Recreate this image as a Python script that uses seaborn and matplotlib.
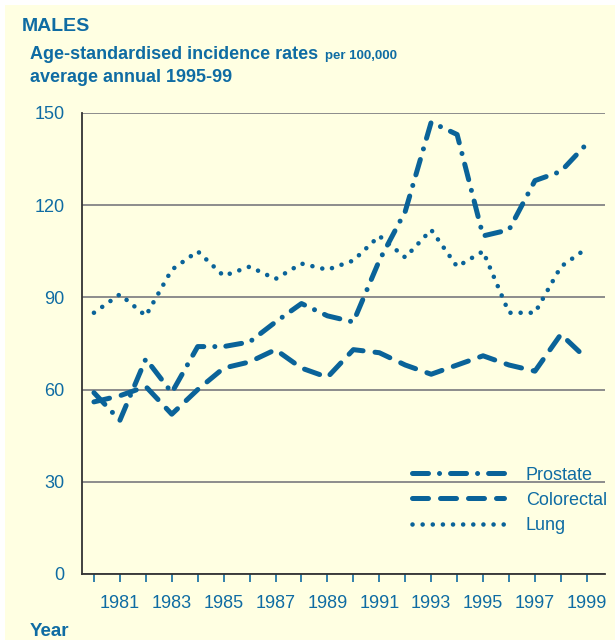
import numpy as np
import pandas as pd
import seaborn as sns
import matplotlib.pyplot as plt
from matplotlib.patches import Rectangle

years = list(range(1980, 2000))
prostate = [59, 50, 70, 59, 74, 74, 75.5, 82, 88, 84, 82, 102, 118, 147, 143, 110, 112, 128, 131, 140]
colorectal = [56, 58, 61, 52, 60, 67, 69, 73, 67, 64, 73, 72, 68, 65, 68, 71, 68, 66, 78, 70]
lung = [85, 91, 84, 99, 105, 97, 100, 96, 101, 99, 102, 110, 103, 112, 100, 105, 85, 85, 100, 106]
cancers = ['Prostate', 'Colorectal', 'Lung']
yticks = [0, 30, 60, 90, 120, 150]

blue = '#0A6399'
txt = '#0F6CA3'
bg = '#FFFFE2'

df = pd.DataFrame({'Year': years * 3,
                   'Rate': prostate + colorectal + lung,
                   'Cancer': np.repeat(cancers, len(years))})

sns.set_style('white')
plt.rcParams['font.family'] = ['Liberation Sans', 'DejaVu Sans']

fig = plt.figure(figsize=(6.15, 6.4), dpi=100)
fig.patch.set_facecolor('white')
fig.patches.append(Rectangle((5 / 615, 0), 1, 1 - 5 / 640, transform=fig.transFigure,
                             facecolor=bg, edgecolor='none', zorder=-10))
ax = fig.add_axes([82 / 615, 1 - 574 / 640, 523 / 615, 461 / 640])
ax.set_facecolor(bg)

# zero-length dashes get dropped, so use a tiny length for the dots
dashes = {'Prostate': (3.2, 2.2, 0.01, 2.2), 'Colorectal': (3.2, 2.4), 'Lung': (0.01, 2.2)}
sns.lineplot(data=df, x='Year', y='Rate', style='Cancer', style_order=cancers,
             dashes=dashes, color=blue, linewidth=3.6, ax=ax, legend=False)
for ln in ax.lines:
    ln.set_dash_capstyle('round')
    ln.set_solid_capstyle('round')
ax.lines[2].set_linewidth(3.3)

ax.set_xlim(1979.54, 1999.7)
ax.set_ylim(0, 150)
ax.set_yticks(yticks)
ax.set_xticks(years)
ax.set_xticklabels([str(y) if y % 2 == 1 else '' for y in years])
ax.grid(axis='y', color='#8C8C8C', linewidth=1.4)
ax.grid(axis='x', visible=False)
ax.set_axisbelow(True)
for s in ['top', 'right']:
    ax.spines[s].set_visible(False)
for s in ['left', 'bottom']:
    ax.spines[s].set_color('#333333')
    ax.spines[s].set_linewidth(1.3)
ax.tick_params(axis='x', bottom=True, direction='out', length=6, width=1.2, color=txt,
               labelsize=13, labelcolor=txt, pad=9)
ax.tick_params(axis='y', left=False, labelsize=13, labelcolor=txt, pad=9)
ax.set_xlabel('')
ax.set_ylabel('')

leg = ax.legend(ax.lines[:3], cancers, loc='center left', bbox_to_anchor=(0.6, 0.16),
                frameon=False, fontsize=13, handlelength=5.1, handletextpad=1.2,
                labelspacing=0.45)
for t in leg.get_texts():
    t.set_color(txt)

bold = dict(weight='bold', color=txt)
fig.text(22 / 615, 1 - 31 / 640, 'MALES', fontsize=14, **bold)
fig.text(30 / 615, 1 - 59 / 640, 'Age-standardised incidence rates', fontsize=13, **bold)
fig.text(325 / 615, 1 - 59 / 640, 'per 100,000', fontsize=9.5, **bold)
fig.text(30 / 615, 1 - 82 / 640, 'average annual 1995-99', fontsize=13, **bold)
fig.text(30 / 615, 1 - 636 / 640, 'Year', fontsize=13.5, **bold)

fig.savefig('out.png', dpi=100, facecolor=fig.get_facecolor())
